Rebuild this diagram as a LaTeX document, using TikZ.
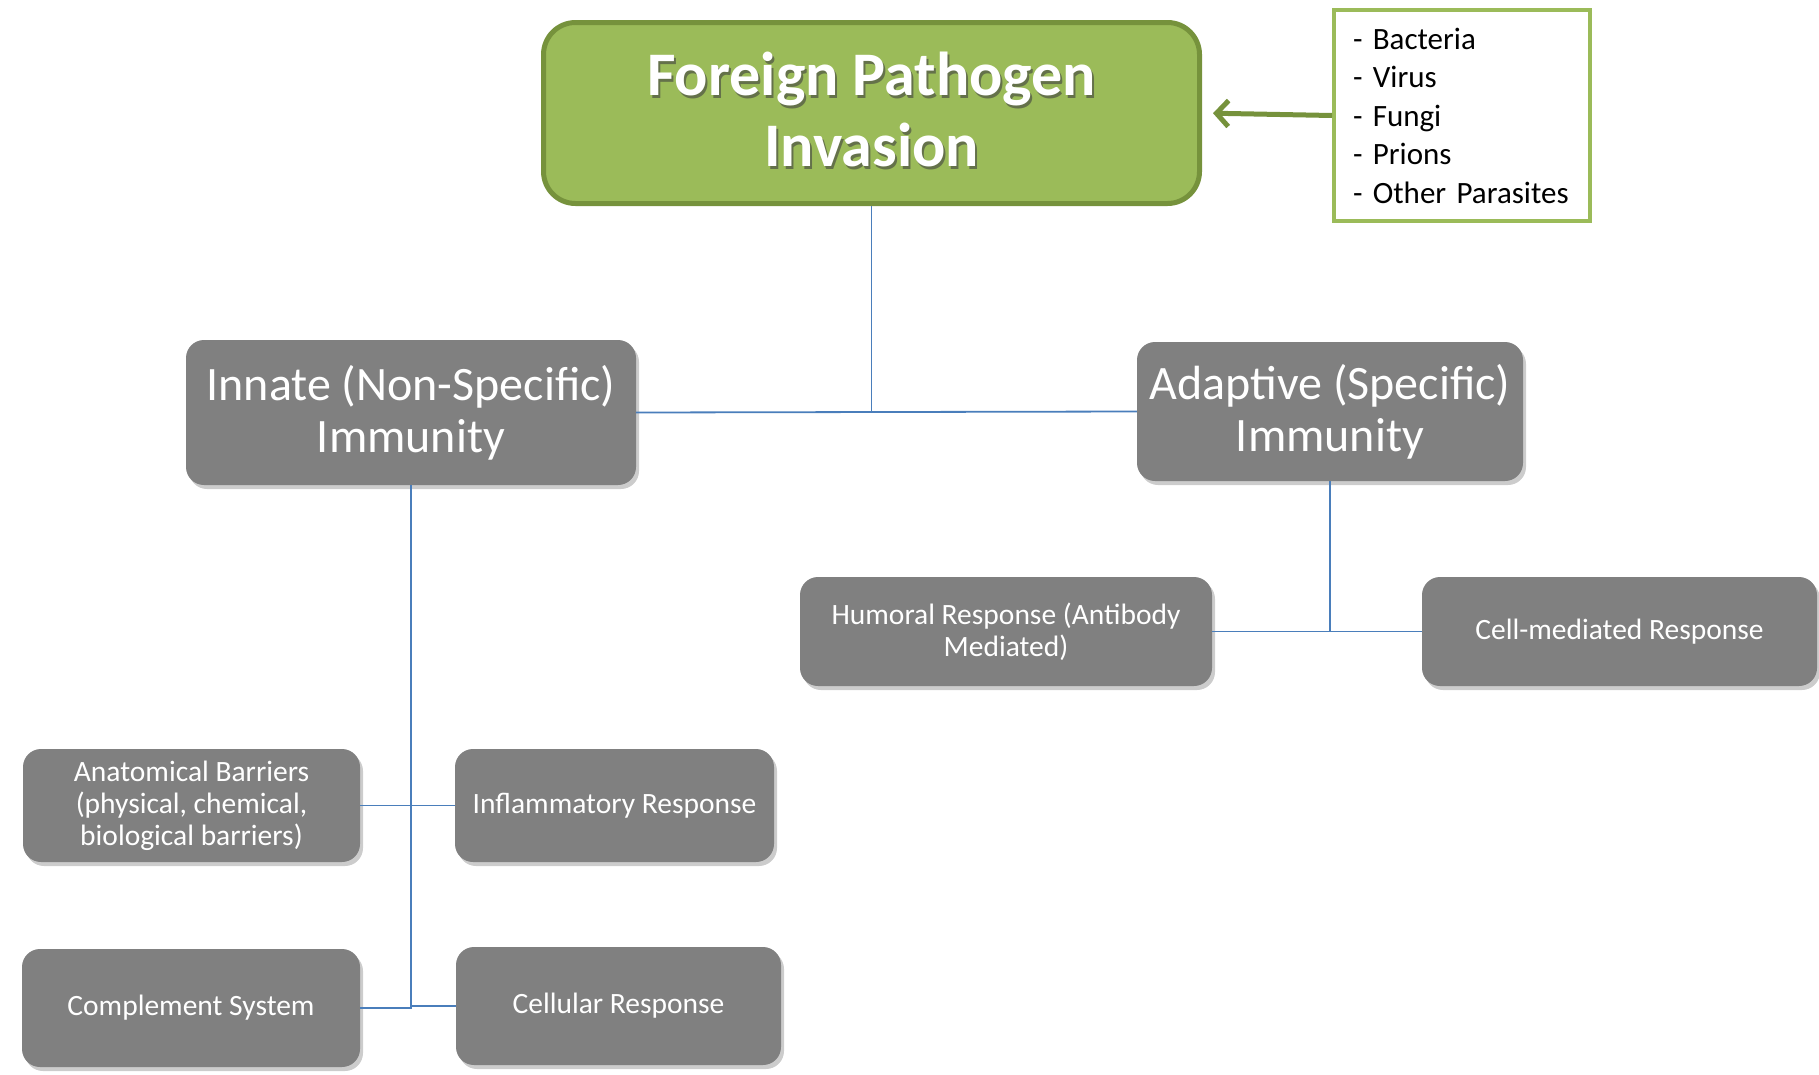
\documentclass[tikz,border=0pt]{standalone}
\usepackage{fontspec}
\setmainfont{Carlito}
\usetikzlibrary{shadows,arrows.meta}
\definecolor{gfill}{HTML}{808080}
\definecolor{tgreen}{HTML}{9BBB59}
\definecolor{dgreen}{HTML}{76923C}
\definecolor{cblue}{HTML}{4A7EBB}
\tikzset{
  gbox/.style={rectangle, rounded corners=18pt, fill=gfill, text=white, align=center,
    drop shadow={shadow xshift=3pt, shadow yshift=-4pt, fill=black, opacity=0.2}},
  bigtxt/.style={font=\fontsize{48}{52}\selectfont},
  smalltxt/.style={font=\fontsize{29.5}{32}\selectfont},
  conn/.style={draw=cblue, line width=1.8pt},
}
\begin{document}
\begin{tikzpicture}[x=1pt,y=-1pt]
\useasboundingbox (0,0) rectangle (1819,1074);
% title
\node[rectangle, rounded corners=32pt, fill=tgreen, draw=dgreen, line width=5pt,
  minimum width=656pt, minimum height=181pt] (title) at (871.5,113) {};
\node[text=black!75, opacity=0.6, align=center, font=\fontsize{62}{71}\selectfont\bfseries]
  (titleshadow) at (873.5,112.5) {Foreign Pathogen\\Invasion};
\node[text=white, align=center, font=\fontsize{62}{71}\selectfont\bfseries]
  (titletext) at (871.5,109.5) {Foreign Pathogen\\Invasion};
% list
\node[rectangle, draw=tgreen, line width=4pt, fill=white, minimum width=256pt, minimum height=211pt,
  text width=218pt, align=left, font=\fontsize{31}{38.5}\selectfont] (list) at (1462,115.5)
  {- Bacteria\\- Virus\\- Fungi\\- Prions\\- Other Parasites};
\draw[draw=dgreen, line width=5pt, -{Straight Barb[length=12pt,width=26pt]}, shorten >=11pt]
  (list.west) -- (title.east);
% level 2
\node[gbox, bigtxt, minimum width=450pt, minimum height=145pt] (innate) at (411,412.5)
  {Innate (Non-Specific)\\Immunity};
\node[gbox, bigtxt, minimum width=386pt, minimum height=139pt] (adapt) at (1330,411.5)
  {Adaptive (Specific)\\Immunity};
% level 3
\node[gbox, smalltxt, minimum width=412pt, minimum height=109pt] (hum) at (1006,631.5)
  {Humoral Response (Antibody\\Mediated)};
\node[gbox, smalltxt, minimum width=395pt, minimum height=109pt] (cell) at (1619.5,631.5)
  {Cell-mediated Response};
\node[gbox, smalltxt, minimum width=337pt, minimum height=113pt] (anat) at (191.5,805.5)
  {Anatomical Barriers\\(physical, chemical,\\biological barriers)};
\node[gbox, smalltxt, minimum width=319pt, minimum height=113pt] (infl) at (614.5,805.5)
  {Inflammatory Response};
\node[gbox, smalltxt, minimum width=338pt, minimum height=118pt] (compl) at (191,1008)
  {Complement System};
\node[gbox, smalltxt, minimum width=325pt, minimum height=118pt] (cellr) at (618.5,1006)
  {Cellular Response};
% connectors
\draw[conn] (title.south) -- (title.south |- innate.east);
\draw[conn] (innate.east) -- (adapt.west);
\draw[conn] (adapt.south) -- (adapt.south |- hum.east);
\draw[conn] (hum.east) -- (cell.west);
\draw[conn] (innate.south) -- (innate.south |- compl.east);
\draw[conn] (anat.east) -- (infl.west);
\draw[conn] (compl.east) -- (compl.east -| innate.south) |- (cellr.west);
\end{tikzpicture}
\end{document}
